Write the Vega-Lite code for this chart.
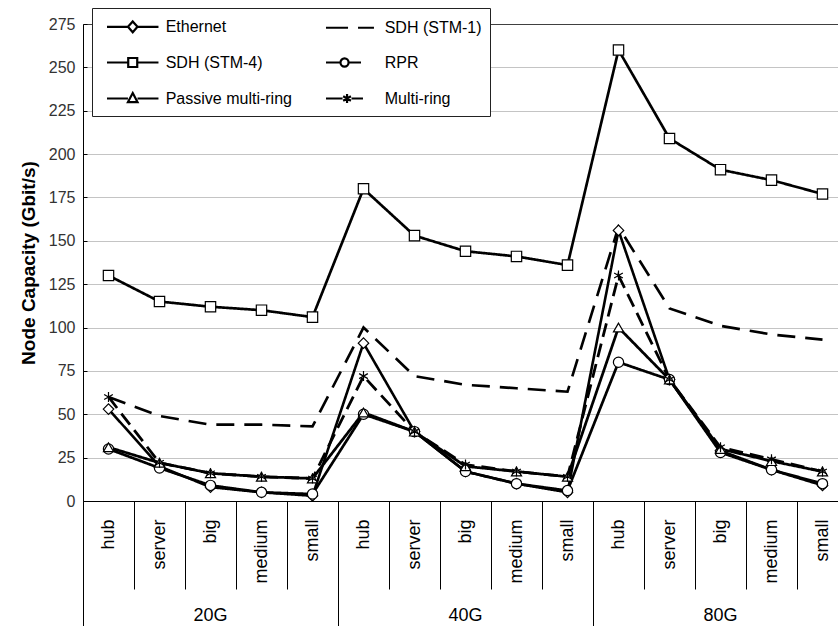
{
  "$schema": "https://vega.github.io/schema/vega-lite/v6.json",
  "autosize": {"type": "none"},
  "padding": {"left": 83, "top": 24, "right": 0, "bottom": 125},
  "width": 755,
  "height": 477,
  "background": "white",
  "config": {
    "font": "Liberation Sans",
    "view": {"stroke": null},
    "axis": {"labelFont": "Liberation Sans", "titleFont": "Liberation Sans"},
    "legend": {"labelFont": "Liberation Sans"}
  },
  "data": {"values": [
    {"series": "Ethernet", "group": "20G", "node": "hub", "value": 53},
    {"series": "Ethernet", "group": "20G", "node": "server", "value": 20},
    {"series": "Ethernet", "group": "20G", "node": "big", "value": 8},
    {"series": "Ethernet", "group": "20G", "node": "medium", "value": 5},
    {"series": "Ethernet", "group": "20G", "node": "small", "value": 3},
    {"series": "Ethernet", "group": "40G", "node": "hub", "value": 91},
    {"series": "Ethernet", "group": "40G", "node": "server", "value": 40},
    {"series": "Ethernet", "group": "40G", "node": "big", "value": 17},
    {"series": "Ethernet", "group": "40G", "node": "medium", "value": 10},
    {"series": "Ethernet", "group": "40G", "node": "small", "value": 5},
    {"series": "Ethernet", "group": "80G", "node": "hub", "value": 156},
    {"series": "Ethernet", "group": "80G", "node": "server", "value": 70},
    {"series": "Ethernet", "group": "80G", "node": "big", "value": 29},
    {"series": "Ethernet", "group": "80G", "node": "medium", "value": 18},
    {"series": "Ethernet", "group": "80G", "node": "small", "value": 9},
    {"series": "SDH (STM-1)", "group": "20G", "node": "hub", "value": 60},
    {"series": "SDH (STM-1)", "group": "20G", "node": "server", "value": 49},
    {"series": "SDH (STM-1)", "group": "20G", "node": "big", "value": 44},
    {"series": "SDH (STM-1)", "group": "20G", "node": "medium", "value": 44},
    {"series": "SDH (STM-1)", "group": "20G", "node": "small", "value": 43},
    {"series": "SDH (STM-1)", "group": "40G", "node": "hub", "value": 100},
    {"series": "SDH (STM-1)", "group": "40G", "node": "server", "value": 72},
    {"series": "SDH (STM-1)", "group": "40G", "node": "big", "value": 67},
    {"series": "SDH (STM-1)", "group": "40G", "node": "medium", "value": 65},
    {"series": "SDH (STM-1)", "group": "40G", "node": "small", "value": 63},
    {"series": "SDH (STM-1)", "group": "80G", "node": "hub", "value": 158},
    {"series": "SDH (STM-1)", "group": "80G", "node": "server", "value": 111},
    {"series": "SDH (STM-1)", "group": "80G", "node": "big", "value": 101},
    {"series": "SDH (STM-1)", "group": "80G", "node": "medium", "value": 96},
    {"series": "SDH (STM-1)", "group": "80G", "node": "small", "value": 93},
    {"series": "SDH (STM-4)", "group": "20G", "node": "hub", "value": 130},
    {"series": "SDH (STM-4)", "group": "20G", "node": "server", "value": 115},
    {"series": "SDH (STM-4)", "group": "20G", "node": "big", "value": 112},
    {"series": "SDH (STM-4)", "group": "20G", "node": "medium", "value": 110},
    {"series": "SDH (STM-4)", "group": "20G", "node": "small", "value": 106},
    {"series": "SDH (STM-4)", "group": "40G", "node": "hub", "value": 180},
    {"series": "SDH (STM-4)", "group": "40G", "node": "server", "value": 153},
    {"series": "SDH (STM-4)", "group": "40G", "node": "big", "value": 144},
    {"series": "SDH (STM-4)", "group": "40G", "node": "medium", "value": 141},
    {"series": "SDH (STM-4)", "group": "40G", "node": "small", "value": 136},
    {"series": "SDH (STM-4)", "group": "80G", "node": "hub", "value": 260},
    {"series": "SDH (STM-4)", "group": "80G", "node": "server", "value": 209},
    {"series": "SDH (STM-4)", "group": "80G", "node": "big", "value": 191},
    {"series": "SDH (STM-4)", "group": "80G", "node": "medium", "value": 185},
    {"series": "SDH (STM-4)", "group": "80G", "node": "small", "value": 177},
    {"series": "RPR", "group": "20G", "node": "hub", "value": 30},
    {"series": "RPR", "group": "20G", "node": "server", "value": 19},
    {"series": "RPR", "group": "20G", "node": "big", "value": 9},
    {"series": "RPR", "group": "20G", "node": "medium", "value": 5},
    {"series": "RPR", "group": "20G", "node": "small", "value": 4},
    {"series": "RPR", "group": "40G", "node": "hub", "value": 50},
    {"series": "RPR", "group": "40G", "node": "server", "value": 40},
    {"series": "RPR", "group": "40G", "node": "big", "value": 17},
    {"series": "RPR", "group": "40G", "node": "medium", "value": 10},
    {"series": "RPR", "group": "40G", "node": "small", "value": 6},
    {"series": "RPR", "group": "80G", "node": "hub", "value": 80},
    {"series": "RPR", "group": "80G", "node": "server", "value": 70},
    {"series": "RPR", "group": "80G", "node": "big", "value": 28},
    {"series": "RPR", "group": "80G", "node": "medium", "value": 18},
    {"series": "RPR", "group": "80G", "node": "small", "value": 10},
    {"series": "Passive multi-ring", "group": "20G", "node": "hub", "value": 31},
    {"series": "Passive multi-ring", "group": "20G", "node": "server", "value": 22},
    {"series": "Passive multi-ring", "group": "20G", "node": "big", "value": 16},
    {"series": "Passive multi-ring", "group": "20G", "node": "medium", "value": 14},
    {"series": "Passive multi-ring", "group": "20G", "node": "small", "value": 13},
    {"series": "Passive multi-ring", "group": "40G", "node": "hub", "value": 51},
    {"series": "Passive multi-ring", "group": "40G", "node": "server", "value": 40},
    {"series": "Passive multi-ring", "group": "40G", "node": "big", "value": 20},
    {"series": "Passive multi-ring", "group": "40G", "node": "medium", "value": 17},
    {"series": "Passive multi-ring", "group": "40G", "node": "small", "value": 14},
    {"series": "Passive multi-ring", "group": "80G", "node": "hub", "value": 100},
    {"series": "Passive multi-ring", "group": "80G", "node": "server", "value": 70},
    {"series": "Passive multi-ring", "group": "80G", "node": "big", "value": 30},
    {"series": "Passive multi-ring", "group": "80G", "node": "medium", "value": 23},
    {"series": "Passive multi-ring", "group": "80G", "node": "small", "value": 17},
    {"series": "Multi-ring", "group": "20G", "node": "hub", "value": 60},
    {"series": "Multi-ring", "group": "20G", "node": "server", "value": 22},
    {"series": "Multi-ring", "group": "20G", "node": "big", "value": 16},
    {"series": "Multi-ring", "group": "20G", "node": "medium", "value": 14},
    {"series": "Multi-ring", "group": "20G", "node": "small", "value": 13},
    {"series": "Multi-ring", "group": "40G", "node": "hub", "value": 72},
    {"series": "Multi-ring", "group": "40G", "node": "server", "value": 40},
    {"series": "Multi-ring", "group": "40G", "node": "big", "value": 21},
    {"series": "Multi-ring", "group": "40G", "node": "medium", "value": 17},
    {"series": "Multi-ring", "group": "40G", "node": "small", "value": 14},
    {"series": "Multi-ring", "group": "80G", "node": "hub", "value": 130},
    {"series": "Multi-ring", "group": "80G", "node": "server", "value": 70},
    {"series": "Multi-ring", "group": "80G", "node": "big", "value": 31},
    {"series": "Multi-ring", "group": "80G", "node": "medium", "value": 24},
    {"series": "Multi-ring", "group": "80G", "node": "small", "value": 17}
  ]},
  "transform": [{"calculate": "datum.group + '|' + datum.node", "as": "key"}],
  "encoding": {
    "y": {
      "field": "value", "type": "quantitative",
      "scale": {"domain": [0, 275], "nice": false, "zero": true},
      "axis": {
        "values": [0, 25, 50, 75, 100, 125, 150, 175, 200, 225, 250, 275],
        "grid": true,
        "gridColor": {"condition": {"test": "datum.value == 275", "value": "#404040"}, "value": "#c4c4c4"},
        "gridWidth": 1.2,
        "domainColor": "#000000",
        "tickColor": "#000000",
        "tickSize": -4,
        "labelPadding": 12,
        "labelFontSize": 16,
        "labelColor": "#333333",
        "title": "Node Capacity (Gbit/s)",
        "titleFontSize": 19,
        "titleFontWeight": "bold",
        "titleColor": "#000000",
        "titlePadding": 10
      }
    }
  },
  "layer": [
    {
      "mark": {"type": "line", "color": "#000000"},
      "encoding": {
        "x": {
          "field": "key", "type": "nominal",
          "scale": {"type": "band", "domain": ["20G|hub","20G|server","20G|big","20G|medium","20G|small","40G|hub","40G|server","40G|big","40G|medium","40G|small","80G|hub","80G|server","80G|big","80G|medium","80G|small"], "range": [0, 765], "paddingInner": 0, "paddingOuter": 0},
          "axis": {
            "orient": "bottom",
            "bandPosition": 0,
            "labelExpr": "split(datum.value, '|')[1]",
            "labelAngle": -90,
            "labelAlign": "right",
            "labelBaseline": "middle",
            "labelPadding": -70,
            "labelOverlap": false,
            "labelFlush": false,
            "labelFontSize": 18,
            "labelColor": "#000000",
            "tickSize": 88,
            "tickColor": "#000000",
            "domainColor": "#000000",
            "grid": false,
            "title": null
          }
        },
        "strokeDash": {
          "field": "series", "type": "nominal", "legend": null,
          "scale": {"domain": ["Ethernet","SDH (STM-1)","SDH (STM-4)","RPR","Passive multi-ring","Multi-ring"], "range": [[1,0],[18,10],[1,0],[1,0],[1,0],[14,7]]}
        },
        "strokeWidth": {
          "field": "series", "type": "ordinal", "legend": null,
          "scale": {"domain": ["Ethernet","SDH (STM-1)","SDH (STM-4)","RPR","Passive multi-ring","Multi-ring"], "range": [2.6, 2.8, 2.6, 1.5, 2.4, 2.6]}
        },
        "order": {"value": null}
      }
    },
    {
      "transform": [{"filter": "datum.series != 'SDH (STM-1)'"}],
      "mark": {"type": "point", "filled": true, "fill": "#ffffff", "stroke": "#000000", "strokeWidth": 1.2, "opacity": 1},
      "encoding": {
        "x": {"field": "key", "type": "nominal", "axis": null},
        "shape": {
          "field": "series", "type": "nominal", "legend": null,
          "scale": {"domain": ["Ethernet","SDH (STM-4)","RPR","Passive multi-ring","Multi-ring"], "range": ["diamond","square","circle","triangle-up","M0,-1L0,1M-0.87,-0.5L0.87,0.5M-0.87,0.5L0.87,-0.5"]}
        },
        "size": {
          "field": "series", "type": "ordinal", "legend": null,
          "scale": {"domain": ["Ethernet","SDH (STM-4)","RPR","Passive multi-ring","Multi-ring"], "range": [110, 100, 72, 90, 110]}
        }
      }
    },
    {
      "mark": {"type": "point", "opacity": 0},
      "encoding": {
        "x": {
          "field": "key", "type": "nominal",
          "axis": {
            "orient": "bottom",
            "bandPosition": 0,
            "labelExpr": "split(datum.value, '|')[1] == 'big' ? split(datum.value, '|')[0] : ''",
            "labelAngle": 0,
            "labelAlign": "center",
            "labelBaseline": "top",
            "labelPadding": -30,
            "labelOverlap": false,
            "labelFlush": false,
            "labelFontSize": 18,
            "labelColor": "#000000",
            "tickSize": 135,
            "tickColor": "#000000",
            "tickOpacity": {"condition": {"test": "split(datum.value, '|')[1] == 'hub'", "value": 1}, "value": 0},
            "domain": false,
            "grid": false,
            "title": null
          }
        },
        "shape": {
          "field": "series", "type": "nominal",
          "scale": {
            "domain": ["Ethernet","SDH (STM-4)","Passive multi-ring","SDH (STM-1)","RPR","Multi-ring"],
            "range": [
              "M-0.39,0L1.94,0M3.0,0L5.33,0M2.47,-0.6L3.0,0L2.47,0.6L1.94,0Z",
              "M-0.39,0L1.97,0M2.97,0L5.33,0M1.97,-0.5L2.97,-0.5L2.97,0.5L1.97,0.5Z",
              "M-0.39,0L1.94,0M3.0,0L5.33,0M2.47,-0.6L3.0,0.4L1.94,0.4Z",
              "M-0.39,0L2.06,0M3.17,0L4.94,0",
              "M-0.39,0L1.22,0M2.12,0L3.5,0M1.22,0A0.45,0.45 0 1,0 2.12,0A0.45,0.45 0 1,0 1.22,0Z",
              "M-0.39,0L1.45,0M2.45,0L3.72,0M1.95,-0.5L1.95,0.5M1.52,-0.25L2.38,0.25M1.52,0.25L2.38,-0.25"
            ]
          },
          "legend": {
            "orient": "none",
            "legendX": 9,
            "legendY": -16,
            "columns": 2,
            "gridAlign": "all",
            "title": null,
            "padding": 8,
            "fillColor": "#ffffff",
            "strokeColor": "#222222",
            "symbolSize": 324,
            "symbolStrokeWidth": 2.2,
            "symbolStrokeColor": "#000000",
            "symbolFillColor": "#ffffff",
            "symbolOpacity": 1,
            "labelFontSize": 16,
            "labelColor": "#000000",
            "labelOffset": 44.7,
            "labelLimit": 300,
            "rowPadding": 15,
            "columnPadding": 27,
            "encode": {
              "symbols": {
                "update": {
                  "opacity": {"value": 1},
                  "fill": {"value": "#ffffff"},
                  "stroke": {"value": "#000000"},
                  "strokeWidth": {"signal": "datum.value === 'RPR' ? 1.4 : 2.4"}
                }
              }
            }
          }
        }
      }
    }
  ],
  "resolve": {"scale": {"shape": "independent", "size": "independent"}, "axis": {"x": "independent"}}
}
